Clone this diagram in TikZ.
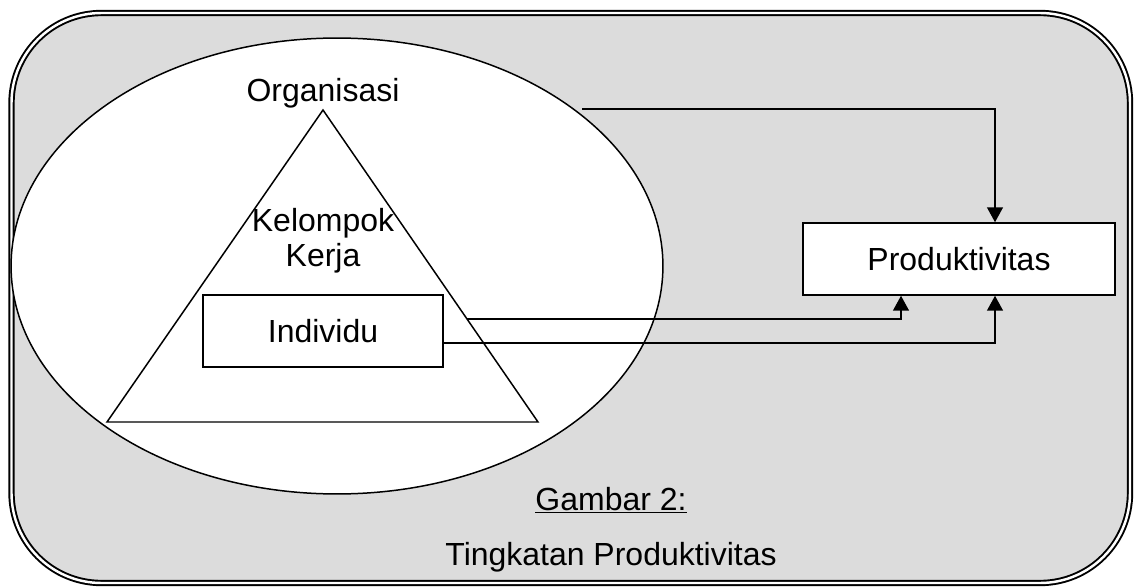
\documentclass[tikz,border=0pt]{standalone}
\usepackage{fontspec}
\setmainfont{Liberation Sans}
\usetikzlibrary{positioning}
\usetikzlibrary{shapes.geometric}
\usetikzlibrary{arrows.meta}
\usetikzlibrary{calc}
\definecolor{panelgray}{RGB}{220,220,220}

\begin{document}
\begin{tikzpicture}[x=0.02cm,y=-0.02cm,
    txt/.style={font=\fontsize{18.2}{20}\selectfont},
    box/.style={draw,line width=0.85pt,fill=white,txt},
    link/.style={line width=0.85pt},
    arr/.style={line width=1pt,-{Triangle[width=9pt,length=8.5pt]}}]
    \useasboundingbox (0,0) rectangle (1136,588);
    \draw[double=white,double distance=1.4pt,line width=1.1pt,fill=panelgray,rounded corners=1.8cm] (11.5,13) rectangle (1130,583);
    \node[ellipse,draw,line width=0.85pt,fill=white,minimum width=13.04cm,minimum height=9.12cm] (org) at (337,266) {};
    % pyramid
    \coordinate (apex) at (323,110);
    \coordinate (bl) at (107,422);
    \coordinate (br) at (538,422);
    \draw[link] (apex) -- (br) -- (bl) -- cycle;
    \node[txt,anchor=base] (orglabel) at (323,102) {Organisasi};
    \node[txt,align=center] (kelompok) at (323,241) {Kelompok\\Kerja};
    \node[box,minimum width=4.8cm,minimum height=1.44cm] (individu) at (323,331) {Individu};
    \node[box,minimum width=6.24cm,minimum height=1.44cm] (prod) at (959,259) {Produktivitas};
    % connectors
    \coordinate (orgout) at (582,109);
    \coordinate (kkout) at ($(apex)!0.67!(br)$);
    \draw[arr] (orgout) -| ($(prod.north)+(36,0)$);
    \draw[arr] (kkout) -| ($(prod.south)+(-58,0)$);
    \draw[arr] ($(individu.east)+(0,12)$) -| ($(prod.south)+(36,0)$);
    % caption
    \node[txt,anchor=base] (fignum) at (611,510) {\underline{Gambar 2:}};
    \node[txt,anchor=base] (figtitle) at (611,565) {Tingkatan Produktivitas};
\end{tikzpicture}
\end{document}
